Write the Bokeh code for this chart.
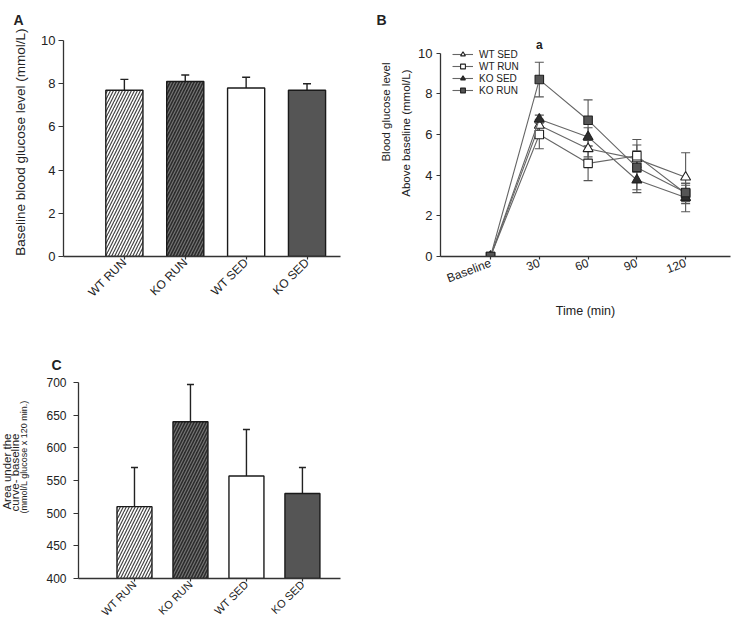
import math
from bokeh.plotting import figure
from bokeh.models import (ColumnDataSource, Whisker, TeeHead, Label, FixedTicker,
                          Range1d, Legend, LegendItem, Title)
from bokeh.layouts import column, row
from bokeh.embed import file_html
from bokeh.resources import INLINE
from bokeh.core.properties import value

# ---------------- data ----------------
groups = ["WT RUN", "KO RUN", "WT SED", "KO SED"]
baseline_mean = [7.7, 8.1, 7.8, 7.7]
baseline_sem = [0.5, 0.3, 0.5, 0.3]
auc_mean = [510, 640, 557, 530]
auc_sem = [60, 57, 71, 40]

time_labels = ["Baseline", "30", "60", "90", "120"]
wt_sed = [0, 6.45, 5.3, 4.8, 3.9]
wt_sed_sem = [0, 0.3, 0.4, 0.4, 1.2]
wt_run = [0, 6.0, 4.58, 4.95, 3.1]
wt_run_sem = [0, 0.7, 0.85, 0.8, 0.5]
ko_sed = [0, 6.75, 5.88, 3.76, 2.9]
ko_sed_sem = [0, 0.2, 0.45, 0.62, 0.7]
ko_run = [0, 8.7, 6.7, 4.38, 3.15]
ko_run_sem = [0, 0.85, 1.0, 1.1, 0.35]

c_ylabel_lines = ["Area under the", "curve- baseline", "(mmol/L glucose x 120 min.)"]

# styles
bar_fill = ["white", "#2b2b2b", "white", "#555555"]
bar_hatch = ["/", "/", " ", " "]
bar_hatch_color = ["#444444", "#747474", "#000000", "#000000"]

FONT = "Liberation Sans"
AX = "#333333"
TXT = "#222222"


def style_axes(p, tick_size):
    p.grid.visible = False
    p.outline_line_color = None
    p.background_fill_color = "white"
    p.border_fill_color = "white"
    for ax in (p.xaxis[0], p.yaxis[0]):
        ax.axis_line_color = AX
        ax.axis_line_width = 1.3
        ax.major_tick_line_color = AX
        ax.major_tick_line_width = 1.2
        ax.minor_tick_line_color = None
        ax.major_label_text_font = FONT
        ax.major_label_text_color = TXT
        ax.major_label_text_font_size = tick_size
        ax.axis_label_text_font = FONT
        ax.axis_label_text_font_style = "normal"
        ax.axis_label_text_color = TXT
        ax.major_tick_in = 0


def panel_letter(p, letter, offset, standoff):
    p.title.text = letter
    p.title.align = "left"
    p.title.vertical_align = "top"
    p.title.offset = offset
    p.title.standoff = standoff
    p.title.text_font = FONT
    p.title.text_font_size = "14px"
    p.title.text_font_style = "bold"
    p.title.text_color = TXT


def side_label(p, text, size, shift, standoff):
    # shift: distance (px) of the text's end below the frame's top
    p.add_layout(Title(text=text, align="right", offset=shift, standoff=standoff,
                       text_font=FONT, text_font_size=size, text_font_style="normal",
                       text_color=TXT), "left")


def bar_panel(means, sems, w, h, bl, br, bt, bb, xend, y0, y1, ystep, bar_w,
              tick_size, xlab_size, cap):
    xs = [i + 1 for i in range(len(groups))]
    src = ColumnDataSource(dict(x=xs, top=means, up=[m + s for m, s in zip(means, sems)],
                                fill=bar_fill, hatch=bar_hatch, hcol=bar_hatch_color))
    p = figure(width=w, height=h, output_backend="svg", toolbar_location=None,
               x_range=Range1d(0, xend), y_range=Range1d(y0, y1),
               min_border_left=bl, min_border_right=br, min_border_top=bt,
               min_border_bottom=bb)
    p.add_layout(Whisker(base="x", upper="up", lower="top", source=src,
                         line_color=TXT, line_width=1.4,
                         upper_head=TeeHead(size=cap, line_color=TXT, line_width=1.4),
                         lower_head=None))
    p.vbar(x="x", top="top", bottom=y0, width=bar_w, source=src,
           fill_color="fill", line_color="#1a1a1a", line_width=1.4,
           hatch_pattern="hatch", hatch_color="hcol", hatch_scale=6, hatch_weight=1.2)
    style_axes(p, tick_size)
    p.xaxis.ticker = FixedTicker(ticks=xs)
    p.xaxis.major_label_overrides = {x: g for x, g in zip(xs, groups)}
    p.xaxis.major_label_orientation = math.pi / 4
    p.xaxis.major_label_text_font_size = xlab_size
    p.xaxis.major_tick_out = 3
    p.xaxis.major_label_standoff = 1
    p.yaxis.ticker = FixedTicker(ticks=list(range(y0, y1 + 1, ystep)))
    p.yaxis.major_tick_out = 5
    return p


# ---------------- Panel A ----------------
pA = bar_panel(baseline_mean, baseline_sem, 360, 320, 58, 20, 40, 64, 4.55, 0, 10, 2,
               0.61, "13px", "12px", 8)
pA.yaxis.major_label_standoff = 3
panel_letter(pA, "A", -50, 21)
side_label(pA, "Baseline blood glucose level (mmol/L)", "13.5px", -12, 21)

# ---------------- Panel B ----------------
pos = list(range(len(time_labels)))
pB = figure(width=374, height=320, output_backend="svg", toolbar_location=None,
            x_range=Range1d(-1.026, 4.92), y_range=Range1d(0, 10.62),
            min_border_left=80, min_border_right=4, min_border_top=40, min_border_bottom=64)
style_axes(pB, "13px")

series = [
    ("WT SED", wt_sed, wt_sed_sem, "triangle", "white", 10),
    ("WT RUN", wt_run, wt_run_sem, "square", "white", 8.5),
    ("KO SED", ko_sed, ko_sed_sem, "triangle", "#2e2e2e", 10),
    ("KO RUN", ko_run, ko_run_sem, "square", "#555555", 8.5),
]
items = []
for name, vals, sems, marker, fill, size in series:
    src = ColumnDataSource(dict(x=pos, y=vals,
                                lo=[v - s for v, s in zip(vals, sems)],
                                hi=[v + s for v, s in zip(vals, sems)]))
    pB.add_layout(Whisker(base="x", upper="hi", lower="lo", source=src,
                          line_color="#555555", line_width=1.1, level="underlay",
                          upper_head=TeeHead(size=9, line_color="#555555", line_width=1.1),
                          lower_head=TeeHead(size=9, line_color="#555555", line_width=1.1)))
    ln = pB.line("x", "y", source=src, line_color="#666666", line_width=1.1)
    sc = pB.scatter("x", "y", source=src, marker=marker, size=size,
                    fill_color=fill, line_color=TXT, line_width=1.1)
    items.append(LegendItem(label=name, renderers=[ln, sc]))

leg = Legend(items=items, location=(12, 160), background_fill_alpha=0,
             border_line_color=None, label_text_font=FONT, label_text_font_size="10px",
             label_text_color=TXT, glyph_width=21, glyph_height=12, label_height=12,
             spacing=0, padding=0, margin=0, label_standoff=6)
pB.add_layout(leg)

pB.xaxis.ticker = FixedTicker(ticks=pos)
pB.xaxis.major_label_overrides = {x: t for x, t in zip(pos, time_labels)}
pB.xaxis.major_label_orientation = 0.36
pB.xaxis.major_label_text_font_size = "12px"
pB.xaxis.major_tick_out = 3
pB.xaxis.major_label_standoff = 3
pB.xaxis.axis_label = "Time (min)"
pB.xaxis.axis_label_text_font_size = "12.5px"
pB.xaxis.axis_label_standoff = 9
pB.yaxis.ticker = FixedTicker(ticks=list(range(0, 11, 2)))
pB.yaxis.bounds = (0, 10)
pB.yaxis.major_tick_out = 4
pB.yaxis.major_label_standoff = 4

pB.add_layout(Label(x=1, y=10, text="a", text_font=FONT, text_font_size="12px",
                    text_font_style="bold", text_align="center", text_baseline="bottom",
                    y_offset=1, text_color=TXT))
panel_letter(pB, "B", -64, 21)
side_label(pB, "Above baseline (mmol/L)", "11.5px", 29, 8)
side_label(pB, "Blood glucose level", "11.5px", 22, 4)

# ---------------- Panel C ----------------
# narrow strip holding the three-line y-axis title (page-pixel coordinates)
pCL = figure(width=40, height=305, output_backend="svg", toolbar_location=None,
             x_range=Range1d(0, 40), y_range=Range1d(578, 382),
             x_axis_type=None, y_axis_type=None,
             min_border_left=0, min_border_right=0, min_border_top=62, min_border_bottom=47)
pCL.grid.visible = False
pCL.outline_line_color = None
pCL.text(x=[6.5, 14.5], y=[433, 433], text=c_ylabel_lines[:2], angle=math.pi / 2,
         text_align="right", text_baseline="middle", text_font=value(FONT),
         text_font_size="11.5px", text_color=TXT)
pCL.text(x=[23.5], y=[400], text=c_ylabel_lines[2:], angle=math.pi / 2,
         text_align="right", text_baseline="middle", text_font=value(FONT),
         text_font_size="9px", text_color=TXT)

pC = bar_panel(auc_mean, auc_sem, 320, 305, 38, 20, 62, 47, 4.68, 400, 700, 50,
               0.625, "12px", "11px", 7)
pC.yaxis.major_label_standoff = 7
panel_letter(pC, "C", -27, 16)

layout = column(row(pA, pB), row(pCL, pC))
open("out.html", "w").write(file_html(layout, INLINE))
